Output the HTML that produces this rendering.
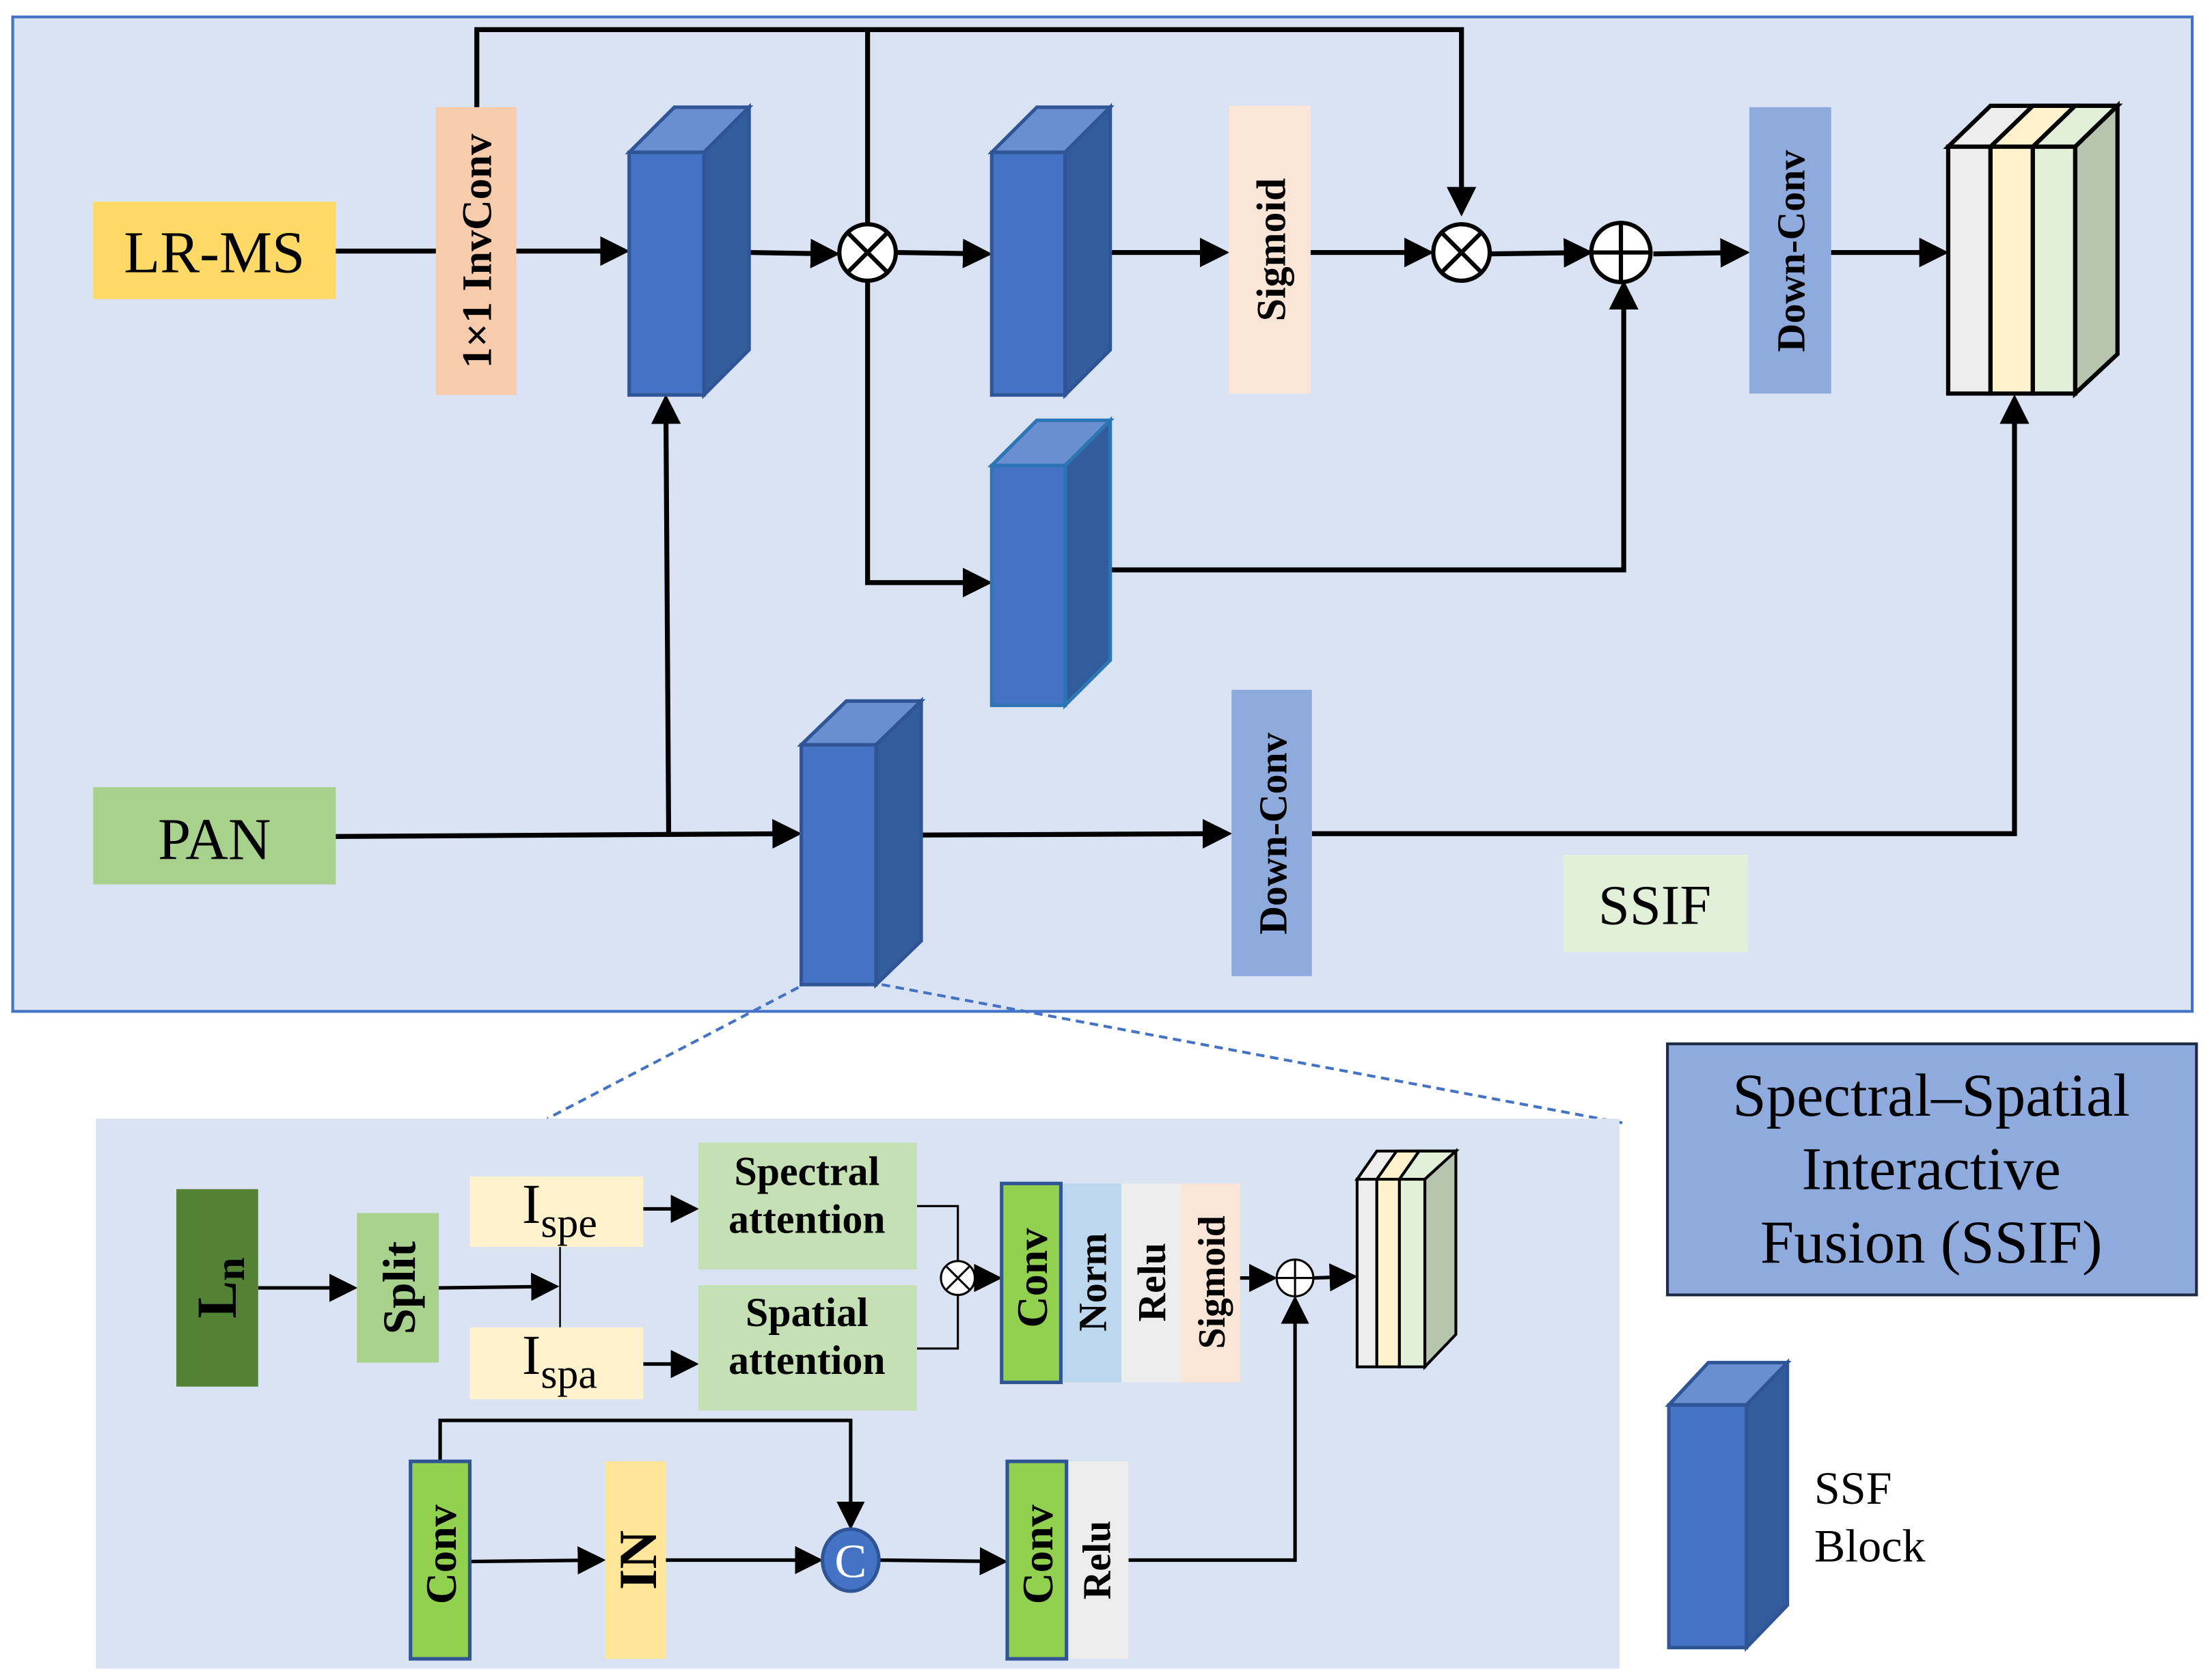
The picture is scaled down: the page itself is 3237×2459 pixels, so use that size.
<!DOCTYPE html>
<html><head><meta charset="utf-8"><style>
html,body{margin:0;padding:0;background:#fff;}
svg{display:block;}
text{font-family:"Liberation Serif",serif;fill:#000;}
</style></head><body>
<svg width="3237" height="2459" viewBox="0 0 1568 1191" preserveAspectRatio="none" xmlns="http://www.w3.org/2000/svg">
<defs>
<marker id="a" markerWidth="6" markerHeight="6" refX="5" refY="3" orient="auto" markerUnits="strokeWidth"><path d="M0,0 L6,3 L0,6 z" fill="#000"/></marker>
<marker id="b" markerWidth="8" markerHeight="8" refX="7" refY="4" orient="auto" markerUnits="strokeWidth"><path d="M0,0 L8,4 L0,8 z" fill="#000"/></marker>
</defs>
<rect x="9" y="12" width="1545" height="705" fill="#dae3f3" stroke="#4472c4" stroke-width="2"/>
<g stroke="#000" stroke-width="3.5" fill="none">
<polyline points="338,76 338,21 1036,21 1036,150" marker-end="url(#a)"/>
<line x1="615" y1="21" x2="615" y2="159"/>
<polyline points="615,199 615,413 700,413" marker-end="url(#a)"/>
<polyline points="787,404 1151,404 1151,202" marker-end="url(#a)"/>
<line x1="238" y1="178" x2="309" y2="178"/>
<line x1="366" y1="178" x2="443" y2="178" marker-end="url(#a)"/>
<line x1="531" y1="179" x2="592" y2="180" marker-end="url(#a)"/>
<line x1="635" y1="179" x2="700" y2="180" marker-end="url(#a)"/>
<line x1="787" y1="179" x2="868" y2="179" marker-end="url(#a)"/>
<line x1="929" y1="179" x2="1013" y2="179" marker-end="url(#a)"/>
<line x1="1056" y1="180" x2="1126" y2="179" marker-end="url(#a)"/>
<line x1="1172" y1="180" x2="1237" y2="179" marker-end="url(#a)"/>
<line x1="1298" y1="179" x2="1378" y2="179" marker-end="url(#a)"/>
<line x1="238" y1="593" x2="565" y2="591" marker-end="url(#a)"/>
<line x1="474" y1="592" x2="472" y2="283" marker-end="url(#a)"/>
<line x1="653" y1="592" x2="870" y2="591" marker-end="url(#a)"/>
<polyline points="930,591 1428,591 1428,283" marker-end="url(#a)"/>
</g>
<rect x="66" y="143" width="172" height="69" fill="#ffd966"/>
<text x="152" y="193" font-size="42" text-anchor="middle">LR-MS</text>
<rect x="66" y="558" width="172" height="69" fill="#a9d18e"/>
<text x="152" y="609" font-size="42" text-anchor="middle">PAN</text>
<rect x="309" y="76" width="57" height="204" fill="#f8cbad"/>
<text transform="translate(348,178) rotate(-90)" font-size="30" font-weight="bold" text-anchor="middle">1×1 InvConv</text>
<rect x="871" y="75" width="58" height="204" fill="#fbe5d6"/>
<text transform="translate(911,177) rotate(-90)" font-size="29" font-weight="bold" text-anchor="middle">Sigmoid</text>
<rect x="1240" y="76" width="58" height="203" fill="#8faadc"/>
<text transform="translate(1279,178) rotate(-90)" font-size="28" font-weight="bold" text-anchor="middle">Down-Conv</text>
<rect x="873" y="489" width="57" height="203" fill="#8faadc"/>
<text transform="translate(912,591) rotate(-90)" font-size="28" font-weight="bold" text-anchor="middle">Down-Conv</text>
<rect x="1108" y="606" width="131" height="69" fill="#e2f0d9"/>
<text x="1173" y="655" font-size="40" text-anchor="middle">SSIF</text>
<g stroke="#2f5597" stroke-width="2.5">
<polygon points="446,108 478,76 531,76 499,108" fill="#6a8fd0"/><polygon points="499,108 531,76 531,248 499,280" fill="#335c9c"/><rect x="446" y="108" width="53" height="172" fill="#4472c4"/>
<polygon points="703,108 735,76 787,76 755,108" fill="#6a8fd0"/><polygon points="755,108 787,76 787,248 755,280" fill="#335c9c"/><rect x="703" y="108" width="52" height="172" fill="#4472c4"/>
<g stroke="#2e75b6"><polygon points="703,330 735,298 787,298 755,330" fill="#6a8fd0"/><polygon points="755,330 787,298 787,468 755,500" fill="#335c9c"/><rect x="703" y="330" width="52" height="170" fill="#4472c4"/></g>
<polygon points="568,528 600,497 653,497 621,528" fill="#6a8fd0"/><polygon points="621,528 653,497 653,667 621,698" fill="#335c9c"/><rect x="568" y="528" width="53" height="170" fill="#4472c4"/>
<polygon points="1183,996 1211,966 1267,966 1238,996" fill="#6a8fd0"/><polygon points="1238,996 1267,966 1267,1138 1238,1168" fill="#335c9c"/><rect x="1183" y="996" width="55" height="172" fill="#4472c4"/>
</g>
<g stroke="#000" stroke-width="3" fill="#fff">
<circle cx="615" cy="179" r="20"/><line x1="601" y1="165" x2="629" y2="193"/><line x1="629" y1="165" x2="601" y2="193"/>
<circle cx="1036" cy="179" r="20"/><line x1="1022" y1="165" x2="1050" y2="193"/><line x1="1050" y1="165" x2="1022" y2="193"/>
<circle cx="1149" cy="179" r="21"/><line x1="1128" y1="179" x2="1170" y2="179"/><line x1="1149" y1="158" x2="1149" y2="200"/>
</g>
<g stroke="#000" stroke-width="3">
<polygon points="1381,104 1411,75 1501,75 1473,104" fill="#ededed"/>
<polygon points="1411,104 1441,75 1471,75 1441,104" fill="#fff2cc"/>
<polygon points="1441,104 1471,75 1501,75 1471,104" fill="#e2f0d9"/>
<polygon points="1471,104 1501,75 1501,251 1471,279" fill="#b7c4ae"/>
<rect x="1381" y="104" width="30" height="175" fill="#ededed"/>
<rect x="1411" y="104" width="30" height="175" fill="#fff2cc"/>
<rect x="1441" y="104" width="30" height="175" fill="#e2f0d9"/>
</g>
<g stroke="#4472c4" stroke-width="2" stroke-dasharray="6,4">
<line x1="566" y1="700" x2="388" y2="793"/><line x1="625" y1="698" x2="1150" y2="796"/>
</g>
<rect x="68" y="793" width="1080" height="390" fill="#dae3f3"/>
<g stroke="#000" stroke-width="2.5" fill="none">
<line x1="183" y1="913" x2="251" y2="913" marker-end="url(#b)"/>
<line x1="311" y1="913" x2="394" y2="912" marker-end="url(#b)"/>
<line x1="397" y1="884" x2="397" y2="941" stroke-width="1.2"/>
<line x1="456" y1="857" x2="493" y2="857" marker-end="url(#b)"/>
<line x1="456" y1="967" x2="493" y2="967" marker-end="url(#b)"/>
<polyline points="650,855 679,855 679,894" stroke-width="1.5"/>
<polyline points="650,956 679,956 679,918" stroke-width="1.5"/>
<line x1="691" y1="906" x2="708" y2="906" marker-end="url(#b)"/>
<line x1="879" y1="906" x2="903" y2="906" marker-end="url(#b)"/>
<line x1="931" y1="906" x2="960" y2="905" marker-end="url(#b)"/>
<polyline points="312,1036 312,1007 603,1007 603,1082" marker-end="url(#b)"/>
<line x1="333" y1="1107" x2="427" y2="1106" marker-end="url(#b)"/>
<line x1="472" y1="1106" x2="581" y2="1106" marker-end="url(#b)"/>
<line x1="623" y1="1106" x2="712" y2="1107" marker-end="url(#b)"/>
<polyline points="800,1106 918,1106 918,921" marker-end="url(#b)"/>
</g>
<rect x="125" y="843" width="58" height="140" fill="#548235"/>
<text transform="translate(167,913) rotate(-90)" font-size="40" font-weight="bold" text-anchor="middle">L<tspan font-size="30" dy="6">n</tspan></text>
<rect x="253" y="860" width="58" height="106" fill="#a9d18e"/>
<text transform="translate(294,913) rotate(-90)" font-size="33" font-weight="bold" text-anchor="middle">Split</text>
<rect x="333" y="834" width="123" height="50" fill="#fff2cc"/>
<text x="370" y="867" font-size="40">I<tspan font-size="30" dy="10">spe</tspan></text>
<rect x="333" y="941" width="123" height="51" fill="#fff2cc"/>
<text x="370" y="974" font-size="40">I<tspan font-size="30" dy="10">spa</tspan></text>
<rect x="495" y="810" width="155" height="90" fill="#c5e0b4"/>
<text x="572" y="840" font-size="29" font-weight="bold" text-anchor="middle">Spectral</text>
<text x="572" y="874" font-size="29" font-weight="bold" text-anchor="middle">attention</text>
<rect x="495" y="911" width="155" height="89" fill="#c5e0b4"/>
<text x="572" y="940" font-size="29" font-weight="bold" text-anchor="middle">Spatial</text>
<text x="572" y="974" font-size="29" font-weight="bold" text-anchor="middle">attention</text>
<g stroke="#000" stroke-width="1.5" fill="#fff">
<circle cx="679" cy="906" r="12"/><line x1="671" y1="898" x2="687" y2="914"/><line x1="687" y1="898" x2="671" y2="914"/>
<circle cx="918" cy="906" r="13"/><line x1="905" y1="906" x2="931" y2="906"/><line x1="918" y1="893" x2="918" y2="919"/>
</g>
<rect x="752" y="839" width="43" height="141" fill="#bdd7ee"/>
<rect x="795" y="839" width="42" height="141" fill="#ededed"/>
<rect x="837" y="839" width="42" height="141" fill="#fbe5d6"/>
<rect x="710" y="839" width="42" height="141" fill="#92d050" stroke="#2f5597" stroke-width="2.5"/>
<g font-weight="bold" text-anchor="middle">
<text transform="translate(742,906) rotate(-90)" font-size="31">Conv</text>
<text transform="translate(784,909) rotate(-90)" font-size="28">Norm</text>
<text transform="translate(826,909) rotate(-90)" font-size="28">Relu</text>
<text transform="translate(868,909) rotate(-90)" font-size="27">Sigmoid</text>
</g>
<g stroke="#000" stroke-width="2">
<polygon points="962,836 976,816 1032,816 1010,836" fill="#ededed"/>
<polygon points="976,836 990,816 1006,816 992,836" fill="#fff2cc"/>
<polygon points="992,836 1006,816 1032,816 1010,836" fill="#e2f0d9"/>
<polygon points="1010,836 1032,816 1032,946 1010,969" fill="#b7c4ae"/>
<rect x="962" y="836" width="14" height="133" fill="#ededed"/>
<rect x="976" y="836" width="16" height="133" fill="#fff2cc"/>
<rect x="992" y="836" width="18" height="133" fill="#e2f0d9"/>
</g>
<rect x="291" y="1036" width="42" height="140" fill="#92d050" stroke="#2f5597" stroke-width="2.5"/>
<text transform="translate(323,1102) rotate(-90)" font-size="31" font-weight="bold" text-anchor="middle">Conv</text>
<rect x="429" y="1036" width="43" height="140" fill="#ffe699"/>
<text transform="translate(465,1106) rotate(-90)" font-size="38" font-weight="bold" text-anchor="middle">IN</text>
<ellipse cx="603" cy="1106" rx="20" ry="22" fill="#4472c4" stroke="#2f5597" stroke-width="2.5"/>
<text x="603" y="1118" font-size="34" style="fill:#fff" text-anchor="middle">C</text>
<rect x="756" y="1036" width="44" height="140" fill="#ededed"/>
<rect x="714" y="1036" width="42" height="140" fill="#92d050" stroke="#2f5597" stroke-width="2.5"/>
<text transform="translate(746,1102) rotate(-90)" font-size="31" font-weight="bold" text-anchor="middle">Conv</text>
<text transform="translate(787,1106) rotate(-90)" font-size="28" font-weight="bold" text-anchor="middle">Relu</text>
<rect x="1182" y="740" width="375" height="178" fill="#8faadc" stroke="#1f2a44" stroke-width="2"/>
<g font-size="43" text-anchor="middle">
<text x="1369" y="791">Spectral–Spatial</text>
<text x="1369" y="843">Interactive</text>
<text x="1369" y="895">Fusion (SSIF)</text>
</g>
<text x="1286" y="1066" font-size="33">SSF</text>
<text x="1286" y="1107" font-size="33">Block</text>
</svg>
</body></html>
